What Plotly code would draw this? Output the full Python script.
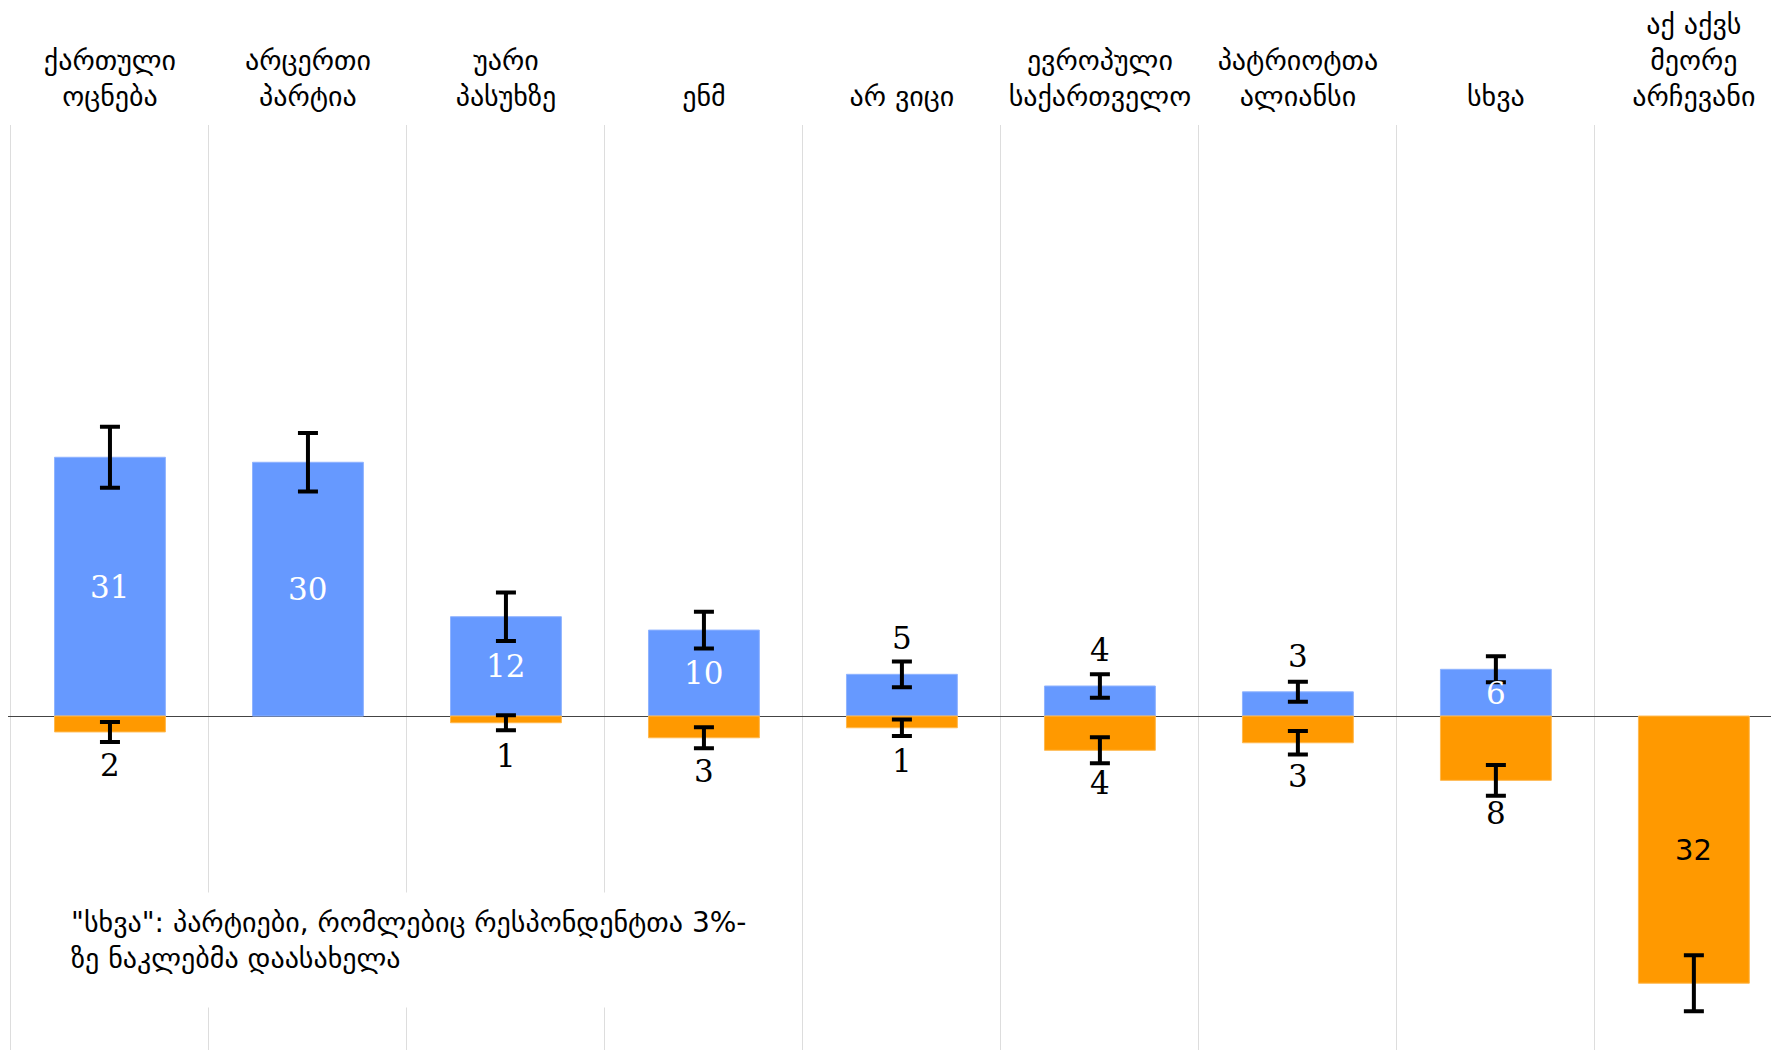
import plotly.graph_objects as go

parties = ["ქართული<br>ოცნება", "არცერთი<br>პარტია", "უარი<br>პასუხზე", "ენმ", "არ ვიცი",
           "ევროპული<br>საქართველო", "პატრიოტთა<br>ალიანსი", "სხვა", "აქ აქვს<br>მეორე<br>არჩევანი"]
first_choice = [31.0, 30.4, 11.9, 10.3, 5.0, 3.6, 2.9, 5.6, None]
first_err = [3.65, 3.5, 2.9, 2.2, 1.55, 1.4, 1.2, 1.55, None]
first_labels = ["31", "30", "12", "10", "5", "4", "3", "6", ""]
second_choice = [1.9, None, 0.8, 2.6, 1.4, 4.1, 3.2, 7.7, 32.0]
second_err = [1.2, None, 0.9, 1.25, 1.0, 1.55, 1.4, 1.85, 3.35]
second_labels = ["2", "", "1", "3", "1", "4", "3", "8", "32"]
note = '"სხვა": პარტიები, რომლებიც რესპონდენტთა 3%-<br>ზე ნაკლებმა დაასახელა'

BLUE = "#6699FF"
ORANGE = "#FF9900"
NUMFONT = "DejaVu Serif, serif"
SANS = "DejaVu Sans, sans-serif"

# page body has an 8px margin: figure is placed at (8, 8)
W, H = 1771, 1042

fig = go.Figure()
fig.add_trace(go.Bar(
    x=parties, y=first_choice, marker=dict(color=BLUE, line=dict(width=1, color="#8fb3ff")),
    width=0.56,
    error_y=dict(type="data", array=first_err, color="black", thickness=4, width=10),
    showlegend=False, hoverinfo="skip"))
fig.add_trace(go.Bar(
    x=parties, y=[-v if v is not None else None for v in second_choice],
    marker=dict(color=ORANGE, line=dict(width=1, color="#ffb84d")),
    width=0.56,
    error_y=dict(type="data", array=second_err, color="black", thickness=4, width=10),
    showlegend=False, hoverinfo="skip"))

for p, v, t in zip(parties, first_choice, first_labels):
    if v is None or not t:
        continue
    if v >= 5.5:
        fig.add_annotation(x=p, y=v / 2, text=t, showarrow=False,
                           font=dict(family=NUMFONT, size=31, color="white"))
    else:
        fig.add_annotation(x=p, y=v, text=t, showarrow=False, yshift=36,
                           font=dict(family=NUMFONT, size=31, color="black"))

for p, v, t in zip(parties, second_choice, second_labels):
    if v is None or not t:
        continue
    if v >= 20:
        fig.add_annotation(x=p, y=-v / 2, text=t, showarrow=False,
                           font=dict(family=SANS, size=29, color="black"))
    else:
        fig.add_annotation(x=p, y=-v, text=t, showarrow=False, yshift=-33,
                           font=dict(family=NUMFONT, size=31, color="black"))

fig.add_annotation(xref="paper", yref="paper", x=(57 - 8) / 1771, y=(1050 - 892) / 925,
                   xanchor="left", yanchor="top", align="left", valign="top", text=note,
                   showarrow=False, bgcolor="white", borderpad=13, height=88,
                   font=dict(family=SANS, size=28, color="black"))

fig.update_layout(
    width=W, height=H,
    margin=dict(l=0, r=0, t=117, b=0),
    paper_bgcolor="white", plot_bgcolor="white",
    barmode="overlay",
    font=dict(family=SANS, color="black"),
    xaxis=dict(type="category", side="top", tickson="boundaries", range=[-0.515, 8.43],
               showgrid=True, gridcolor="#dddddd", gridwidth=1, ticks="", showline=False,
               zeroline=False, ticklabelstandoff=12, tickangle=0, automargin=False,
               tickfont=dict(family=SANS, size=28, color="black")),
    yaxis=dict(range=[-40, 70.8], showgrid=False, showticklabels=False, zeroline=True,
               zerolinecolor="#444444", zerolinewidth=1, fixedrange=True, automargin=False),
)

fig.write_html("out.html")
